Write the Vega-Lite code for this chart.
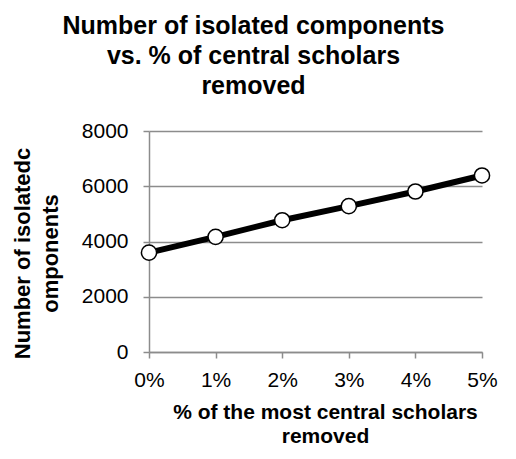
{
  "$schema": "https://vega.github.io/schema/vega-lite/v6.json",
  "width": 333,
  "height": 221,
  "autosize": {"type": "none"},
  "padding": {"left": 149, "top": 131, "right": 34, "bottom": 107},
  "background": "white",
  "title": {
    "text": ["Number of isolated components", "vs. % of central scholars", "removed"],
    "font": "Liberation Sans",
    "fontSize": 25,
    "fontWeight": "bold",
    "color": "black",
    "anchor": "middle",
    "dx": -62,
    "lineHeight": 30,
    "offset": 21
  },
  "data": {
    "values": [
      {"pct": 0, "components": 3600},
      {"pct": 1, "components": 4170},
      {"pct": 2, "components": 4770},
      {"pct": 3, "components": 5280},
      {"pct": 4, "components": 5810},
      {"pct": 5, "components": 6390}
    ]
  },
  "encoding": {
    "x": {
      "field": "pct",
      "type": "quantitative",
      "scale": {"domain": [0, 5], "nice": false, "zero": false},
      "axis": {
        "title": ["% of the most central scholars", "removed"],
        "values": [0, 1, 2, 3, 4, 5],
        "labelExpr": "datum.value + '%'",
        "labelFlush": false,
        "labelPadding": 11,
        "grid": false,
        "titleFontSize": 21,
        "titleLineHeight": 24,
        "titleX": 176,
        "titlePadding": 11
      }
    },
    "y": {
      "field": "components",
      "type": "quantitative",
      "scale": {"domain": [0, 8000], "nice": false},
      "axis": {
        "title": ["Number of isolatedc", "omponents"],
        "values": [0, 2000, 4000, 6000, 8000],
        "format": "d",
        "grid": true,
        "labelPadding": 15,
        "titleFontSize": 22,
        "titleLineHeight": 28,
        "titleY": 122,
        "titleX": -115,
        "titleBaseline": "bottom"
      }
    }
  },
  "layer": [
    {"mark": {"type": "line", "color": "black", "strokeWidth": 6}},
    {"mark": {"type": "point", "filled": true, "fill": "white", "stroke": "black", "strokeWidth": 1.5, "size": 230, "opacity": 1}}
  ],
  "config": {
    "view": {"stroke": null},
    "axis": {
      "labelFont": "Liberation Sans",
      "labelFontSize": 21,
      "labelColor": "black",
      "titleFont": "Liberation Sans",
      "titleFontWeight": "bold",
      "titleColor": "black",
      "domainColor": "#8c8c8c",
      "domainWidth": 1.5,
      "tickColor": "#8c8c8c",
      "tickWidth": 1.5,
      "tickSize": 6,
      "gridColor": "#8c8c8c",
      "gridWidth": 1.3
    }
  }
}
